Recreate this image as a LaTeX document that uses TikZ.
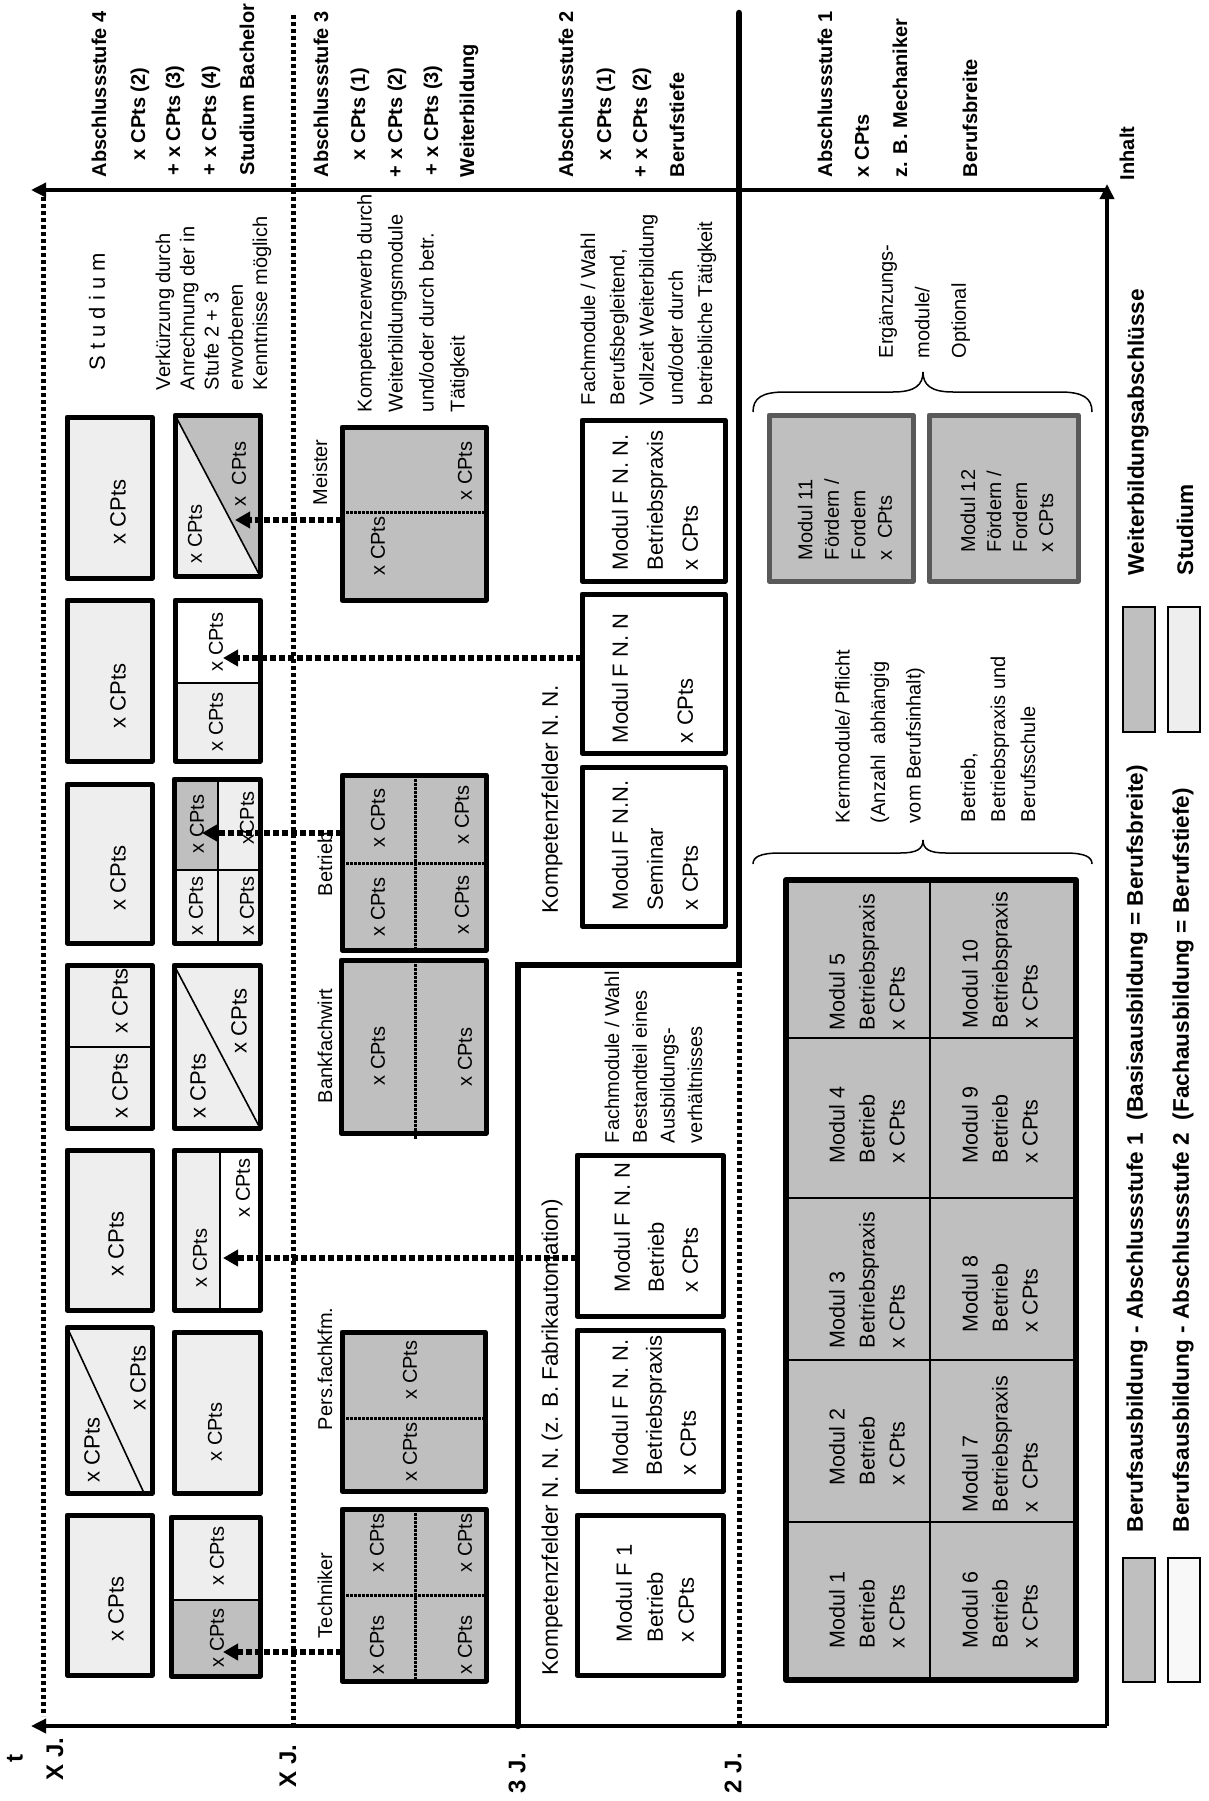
\documentclass[tikz,border=0pt]{standalone}
\usepackage{fontspec}
\setmainfont{Liberation Sans}
\usetikzlibrary{arrows.meta,fit}
\definecolor{lg}{RGB}{238,238,238}
\definecolor{dg}{RGB}{191,191,191}
\definecolor{wl}{RGB}{248,248,248}
\definecolor{mg}{RGB}{89,89,89}
\newcommand\myfs[2]{\fontsize{#1}{#2}\selectfont}
\begin{document}
\begin{tikzpicture}[x=1pt,y=-1pt,
  txt/.style={rotate=90,inner sep=0pt,outer sep=0pt,font=\myfs{20}{24}},
  lab/.style={txt,anchor=west,font=\bfseries\myfs{20}{24}},
  big/.style={txt,anchor=west,font=\bfseries\myfs{24}{28}},
  leg/.style={txt,anchor=west,font=\bfseries\myfs{22.6}{26}},
  cpa/.style={txt,font=\myfs{22}{24}},
  cpb/.style={txt,font=\myfs{20}{24}},
  blk/.style={txt,anchor=west,align=left},
  bx/.style={inner sep=0pt,outer sep=0pt},
  bd/.style={line width=5pt,line join=round},
  thinl/.style={line width=1.6pt},
  idot/.style={line width=3pt,dash pattern=on 2.5pt off 1.5pt},
  ldot/.style={line width=5pt,dash pattern=on 4pt off 3pt},
  darr/.style={line width=5.5pt,dash pattern=on 6pt off 3pt,-{Triangle[length=15pt,width=16pt]}},
  axis/.style={line width=3.5pt,-{Triangle[length=15pt,width=14pt]}}
]
\useasboundingbox (0,0) rectangle (1208,1801);
\fill[white] (0,0) rectangle (1208,1801);

% ---------- axes ----------
\coordinate (O) at (1107,1726);
\coordinate (TR) at (1107,184);
\coordinate (TL) at (31,190);
\coordinate (BL) at (31,1726);
\draw[axis] (O) -- (TR);
\draw[axis] (TR |- TL) -- (TL);
\draw[axis] (O) -- (BL);

% ---------- long dotted / thick lines ----------
\draw[ldot] (43,197) -- (43,1716);
\draw[ldot] (293,15) -- (293,1724);
\draw[ldot] (739,972) -- (739,1724);
\draw[line width=6.5pt,line cap=round,line join=miter] (518,1726) -- (518,965) -- (739,965) -- (739,13);

% ---------- box fills ----------
% column 1 (Studium)
\node[bx,fill=lg,fit={(67,417)(152,578)}] (s1) {};
\node[bx,fill=lg,fit={(67,600)(152,761)}] (s2) {};
\node[bx,fill=lg,fit={(67,784)(152,943)}] (s3) {};
\node[bx,fill=lg,fit={(67,965)(152,1128)}] (s4) {};
\node[bx,fill=lg,fit={(67,1150)(152,1310)}] (s5) {};
\node[bx,fill=lg,fit={(67,1327)(152,1493)}] (s6) {};
\node[bx,fill=lg,fit={(67,1515)(152,1675)}] (s7) {};
% column 2
\node[bx,fill=lg,fit={(175,415)(260,576)}] (w1) {};
\node[bx,fill=lg,fit={(175,600)(260,761)}] (w2) {};
\node[bx,fill=lg,fit={(174,779)(260,943)}] (w3) {};
\node[bx,fill=lg,fit={(174,965)(260,1128)}] (w4) {};
\node[bx,fill=lg,fit={(174,1150)(260,1310)}] (w5) {};
\node[bx,fill=lg,fit={(174,1332)(260,1493)}] (w6) {};
\node[bx,fill=lg,fit={(171,1517)(260,1676)}] (w7) {};
% column 3 (Weiterbildung)
\node[bx,fill=dg,fit={(342,427)(486,600)}] (meister) {};
\node[bx,fill=dg,fit={(342,775)(486,950)}] (betrieb) {};
\node[bx,fill=dg,fit={(341,960)(486,1133)}] (bank) {};
\node[bx,fill=dg,fit={(342,1332)(485,1491)}] (pers) {};
\node[bx,fill=dg,fit={(342,1509)(486,1681)}] (tech) {};
% Kompetenzfelder
\node[bx,fill=white,fit={(582,420)(725,581)}] (fa) {};
\node[bx,fill=white,fit={(582,594)(725,753)}] (fb) {};
\node[bx,fill=white,fit={(582,767)(725,926)}] (fc) {};
\node[bx,fill=white,fit={(577,1155)(723,1316)}] (fd) {};
\node[bx,fill=white,fit={(577,1330)(723,1491)}] (fe) {};
\node[bx,fill=white,fit={(577,1515)(723,1675)}] (ff) {};
% module grid
\node[bx,fill=dg,fit={(786,880)(1076,1680)}] (grid) {};
% Ergaenzungsmodule
\node[bx,fill=dg,fit={(769,415)(913,581)}] (m11) {};
\node[bx,fill=dg,fit={(929,415)(1078,581)}] (m12) {};
% legend
\node[bx,fill=dg,draw,line width=2pt,fit={(1123,607)(1155,732)}] (lgA) {};
\node[bx,fill=lg,draw,line width=2pt,fit={(1168,607)(1200,732)}] (lgB) {};
\node[bx,fill=dg,draw,line width=2pt,fit={(1123,1558)(1155,1682)}] (lgC) {};
\node[bx,fill=wl,draw,line width=2pt,fit={(1168,1558)(1200,1682)}] (lgD) {};

% ---------- partial fills and inner lines ----------
\fill[dg] (w1.north west) -- (w1.north east) -- (w1.south east) -- cycle;
\draw[thinl] (w1.north west) -- (w1.south east);
\fill[white] (w2.north west) rectangle (260,683);
\draw[thinl] (175,683) -- (260,683);
\fill[dg] (w3.north west) rectangle (218,870);
\draw[thinl] (218,779) -- (218,943);
\draw[thinl] (174,870) -- (260,870);
\draw[thinl] (w4.north west) -- (w4.south east);
\fill[white] (220,1150) rectangle (w5.south east);
\draw[thinl] (220,1150) -- (220,1310);
\fill[dg] (171,1600) rectangle (w7.south east);
\draw[thinl] (171,1600) -- (260,1600);
\draw[thinl] (67,1047) -- (152,1047);
\draw[thinl] (s6.north west) -- (144,1493);

\draw[idot] (342,512) -- (486,512);
\draw[idot] (342,863) -- (488,863);
\draw[idot] (415,775) -- (415,950);
\draw[idot] (415,960) -- (415,1140);
\draw[idot] (342,1418) -- (488,1418);
\draw[idot] (342,1595) -- (486,1595);
\draw[idot] (415,1509) -- (415,1681);

\draw[line width=1.6pt] (930,880) -- (930,1680);
\foreach \yy in {1038,1198,1360,1522} \draw[line width=1.6pt] (786,\yy) -- (1076,\yy);

% ---------- borders ----------
\foreach \n in {s1,s2,s3,s4,s5,s6,s7,w1,w2,w3,w4,w5,w6,w7,meister,betrieb,bank,pers,tech,fa,fb,fc,fd,fe,ff}
  \draw[bd] (\n.north west) rectangle (\n.south east);
\draw[bd,line width=6pt] (grid.north west) rectangle (grid.south east);
\draw[bd,draw=mg] (m11.north west) rectangle (m11.south east);
\draw[bd,draw=mg] (m12.north west) rectangle (m12.south east);

% ---------- braces ----------
\draw[line width=1.5pt] (753,412) .. controls (753,398) and (762,392) .. (785,392) -- (893,392)
  .. controls (915,392) and (923,385) .. (923,372) .. controls (923,385) and (931,392) .. (953,392)
  -- (1060,392) .. controls (1083,392) and (1092,398) .. (1092,412);
\draw[line width=1.5pt] (753,864) .. controls (753,857) and (760,853) .. (780,853) -- (900,853)
  .. controls (917,853) and (923,849) .. (923,840) .. controls (923,849) and (929,853) .. (946,853)
  -- (1065,853) .. controls (1085,853) and (1092,857) .. (1092,864);

% ---------- header labels ----------
\node[lab] (l1) at (99,177) {Abschlussstufe 4};
\node[lab] (l2) at (140,160) {x CPts (2)};
\node[lab] (l3) at (175,175) {+ x CPts (3)};
\node[lab] (l4) at (211,175) {+ x CPts (4)};
\node[lab] (l5) at (247,175) {Studium Bachelor};
\node[lab] (l6) at (321,177) {Abschlussstufe 3};
\node[lab] (l7) at (360,160) {x CPts (1)};
\node[lab] (l8) at (397,177) {+ x CPts (2)};
\node[lab] (l9) at (433,175) {+ x CPts (3)};
\node[lab] (l10) at (469,177) {Weiterbildung};
\node[lab] (l11) at (566,177) {Abschlussstufe 2};
\node[lab] (l12) at (606,160) {x CPts (1)};
\node[lab] (l13) at (642,177) {+ x CPts (2)};
\node[lab] (l14) at (677,177) {Berufstiefe};
\node[lab] (l15) at (825,177) {Abschlussstufe 1};
\node[lab] (l16) at (862,177) {x CPts};
\node[lab] (l17) at (900,177) {z. B. Mechaniker};
\node[lab] (l18) at (970,177) {Berufsbreite};
\node[lab] (l19) at (1127,180) {Inhalt};
\node[big] (l20) at (15,1762) {t};
\node[big] (l21) at (55,1780) {X J.};
\node[big] (l22) at (288,1787) {X J.};
\node[big] (l23) at (517,1793) {3 J.};
\node[big] (l24) at (733,1793) {2 J.};
\node[leg] (l25) at (1138,575) {Weiterbildungsabschlüsse};
\node[leg] (l26) at (1185,575) {Studium};
\node[leg] (l27) at (1137,1532) {Berufsausbildung - Abschlussstufe 1\ \ (Basisausbildung = Berufsbreite)};
\node[leg] (l28) at (1183,1532) {Berufsausbildung - Abschlussstufe 2\ \ (Fachausbildung = Berufstiefe)};

% ---------- descriptive texts ----------
\node[txt,font=\myfs{22}{26}] (tst) at (97,312) {S t u d i u m};
\node[blk,font=\myfs{20}{24.25}] (v1) at (213.5,390) {Verkürzung durch\\Anrechnung der in\\Stufe 2 + 3\\erworbenen\\Kenntnisse möglich};
\node[blk,font=\myfs{20}{31}] (v2) at (413,412) {Kompetenzerwerb durch\\Weiterbildungsmodule\\und/oder durch betr.\\Tätigkeit};
\node[blk,font=\myfs{20}{29.25}] (v3) at (648.5,405) {Fachmodule / Wahl\\Berufsbegleitend,\\Vollzeit Weiterbildung\\und/oder durch\\betriebliche Tätigkeit};
\node[blk,font=\myfs{20}{27.7}] (v4) at (653.5,1143) {Fachmodule / Wahl\\Bestandteil eines\\Ausbildungs-\\verhältnisses};
\node[blk,font=\myfs{20}{36.5}] (v5) at (924.5,358) {Ergänzungs-\\module/\\Optional};
\node[blk,font=\myfs{20}{35.5}] (v6) at (880,823) {Kernmodule/ Pflicht\\(Anzahl~~abhängig\\vom Berufsinhalt)};
\node[blk,font=\myfs{20}{30}] (v7) at (998,822) {Betrieb,\\Betriebspraxis und\\Berufsschule};

\node[txt,anchor=west,font=\myfs{22.5}{26}] (k1) at (552,913) {Kompetenzfelder N. N.};
\node[txt,anchor=west,font=\myfs{22.5}{26}] (k2) at (552,1675) {Kompetenzfelder N. N. (z. B. Fabrikautomation)};
\node[txt,anchor=west] (k3) at (320,505) {Meister};
\node[txt,anchor=west] (k4) at (325,896) {Betrieb};
\node[txt,anchor=west] (k5) at (325,1103) {Bankfachwirt};
\node[txt,anchor=west] (k6) at (325,1430) {Pers.fachkfm.};
\node[txt,anchor=west] (k7) at (325,1638) {Techniker};

% ---------- box texts ----------
\node[cpa] (c1) at (118,512) {x CPts};
\node[cpa] (c2) at (118,696) {x CPts};
\node[cpa] (c3) at (118,878) {x CPts};
\node[cpa] (c4a) at (120,1001) {x CPts};
\node[cpa] (c4b) at (120,1086) {x CPts};
\node[cpa] (c5) at (116,1244) {x CPts};
\node[cpa] (c6a) at (92,1450) {x CPts};
\node[cpa] (c6b) at (138,1378) {x CPts};
\node[cpa] (c7) at (116,1609) {x CPts};

\node[cpb] (d1a) at (195,534) {x CPts};
\node[cpb] (d1b) at (239,474) {x~~CPts};
\node[cpb] (d2a) at (216,642) {x CPts};
\node[cpb] (d2b) at (216,722) {x CPts};
\node[cpb] (d3a) at (197,824) {x CPts};
\node[cpb] (d3b) at (247,818) {xCPts};
\node[cpb] (d3c) at (196,906) {x CPts};
\node[cpb] (d3d) at (247,906) {x CPts};
\node[cpa] (d4a) at (198,1086) {x CPts};
\node[cpa] (d4b) at (239,1021) {x CPts};
\node[cpb] (d5a) at (200,1258) {x CPts};
\node[cpb] (d5b) at (243,1188) {x CPts};
\node[cpb] (d6) at (215,1432) {x CPts};
\node[cpb] (d7a) at (217,1556) {x CPts};
\node[cpb] (d7b) at (217,1638) {x CPts};

\node[cpb] (e1a) at (378,546) {x CPts};
\node[cpb] (e1b) at (465,471) {x CPts};
\node[cpb] (e2a) at (378,818) {x CPts};
\node[cpb] (e2b) at (378,907) {x CPts};
\node[cpb] (e2c) at (462,815) {x CPts};
\node[cpb] (e2d) at (462,905) {x CPts};
\node[cpb] (e3a) at (378,1056) {x CPts};
\node[cpb] (e3b) at (465,1057) {x CPts};
\node[cpb] (e4a) at (410,1370) {x CPts};
\node[cpb] (e4b) at (410,1452) {x CPts};
\node[cpb] (e5a) at (377,1645) {x CPts};
\node[cpb] (e5b) at (377,1543) {x CPts};
\node[cpb] (e5c) at (465,1645) {x CPts};
\node[cpb] (e5d) at (465,1543) {x CPts};

\node[blk,font=\myfs{22}{35}] (fat) at (655,570) {Modul F N. N.\\Betriebspraxis\\x CPts};
\node[blk,font=\myfs{22}{32.5}] (fbt) at (652.5,743) {Modul F N. N\\\mbox{}\\x CPts};
\node[blk,font=\myfs{22}{35}] (fct) at (655,910) {Modul F N.N.\\Seminar\\x CPts};
\node[blk,font=\myfs{22}{34}] (fdt) at (656,1292) {Modul F N. N\\Betrieb\\x CPts};
\node[blk,font=\myfs{22}{34}] (fet) at (654,1475) {Modul F N. N.\\Betriebspraxis\\x CPts};
\node[blk,font=\myfs{22}{31}] (fft) at (655,1642) {Modul F 1\\Betrieb\\x CPts};

\node[blk,font=\myfs{21.5}{30}] (g5) at (867,1030) {Modul 5\\Betriebspraxis\\x CPts};
\node[blk,font=\myfs{21.5}{30}] (g4) at (867,1163) {Modul 4\\Betrieb\\x CPts};
\node[blk,font=\myfs{21.5}{30}] (g3) at (867,1348) {Modul 3\\Betriebspraxis\\x CPts};
\node[blk,font=\myfs{21.5}{30}] (g2) at (867,1485) {Modul 2\\Betrieb\\x CPts};
\node[blk,font=\myfs{21.5}{30}] (g1) at (867,1648) {Modul 1\\Betrieb\\x CPts};
\node[blk,font=\myfs{21.5}{30}] (g10) at (1000,1028) {Modul 10\\Betriebspraxis\\x CPts};
\node[blk,font=\myfs{21.5}{30}] (g9) at (1000,1163) {Modul 9\\Betrieb\\x CPts};
\node[blk,font=\myfs{21.5}{30}] (g8) at (1000,1332) {Modul 8\\Betrieb\\x CPts};
\node[blk,font=\myfs{21.5}{30}] (g7) at (1000,1512) {Modul 7\\Betriebspraxis\\x~~CPts};
\node[blk,font=\myfs{21.5}{30}] (g6) at (1000,1648) {Modul 6\\Betrieb\\x CPts};

\node[blk,font=\myfs{20}{26.5}] (t11) at (845,560) {Modul 11\\Fördern /\\Fordern\\x~~CPts};
\node[blk,font=\myfs{20}{26}] (t12) at (1007,552) {Modul 12\\Fördern /\\Fordern\\x CPts};

% ---------- dotted arrows ----------
\coordinate (pA) at (235,520);
\coordinate (pB) at (223,658);
\coordinate (pC) at (202,833);
\coordinate (pD) at (223,1258);
\coordinate (pE) at (223,1652);
\draw[darr] (meister.west |- pA) -- (pA);
\draw[darr] (fb.west |- pB) -- (pB);
\draw[darr] (betrieb.west |- pC) -- (pC);
\draw[darr] (fd.west |- pD) -- (pD);
\draw[darr] (tech.west |- pE) -- (pE);
\end{tikzpicture}
\end{document}
